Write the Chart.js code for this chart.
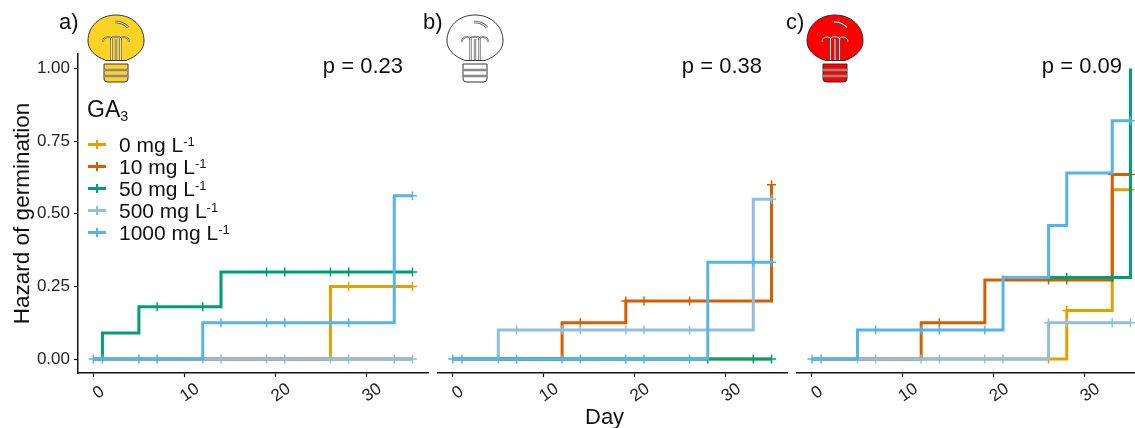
<!DOCTYPE html>
<html lang="en">
<head>
  <meta charset="UTF-8">
  <title>Hazard of germination</title>
  <script src="https://cdn.jsdelivr.net/npm/chart.js"></script>
  <style>
    html, body { margin: 0; padding: 0; background: #fff; overflow: hidden; }
    body { width: 1135px; height: 428px; position: relative; font-family: 'Liberation Sans', Arial, sans-serif; color: #111; }
    .panel { position: absolute; top: 0; height: 428px; }
    .txt { position: absolute; white-space: nowrap; line-height: 1; }
    .pval { font-size: 22px; top: 55px; }
    .tag { font-size: 22px; top: 11px; }
    .bulb { position: absolute; top: 13px; width: 60px; height: 70px; }
    sup { font-size: 0.62em; line-height: 0; vertical-align: 0.5em; }
    sub { font-size: 0.62em; line-height: 0; vertical-align: -0.3em; }
    .swatch { position: absolute; left: 88px; width: 18px; height: 3px; }
    .swatch i { position: absolute; left: 8px; top: -3px; width: 1.5px; height: 9px; background: inherit; }
  </style>
</head>
<body>
  <div class="panel" style="left:0;width:430px"><canvas id="chartA"></canvas></div>
  <div class="panel" style="left:430px;width:360px"><canvas id="chartB"></canvas></div>
  <div class="panel" style="left:790px;width:345px"><canvas id="chartC"></canvas></div>

  <div class="txt tag" style="left:59px">a)</div>
  <div class="txt tag" style="left:423px">b)</div>
  <div class="txt tag" style="left:786px">c)</div>
  <div class="txt pval" style="right:732px">p = 0.23</div>
  <div class="txt pval" style="right:373px">p = 0.38</div>
  <div class="txt pval" style="right:13px">p = 0.09</div>
  <div class="txt" style="left:87px;top:98px;font-size:23px">GA<sub>3</sub></div>
  <div class="txt" style="left:585px;top:406px;font-size:22px">Day</div>
  <div id="legend"></div>

  <svg class="bulb" style="left:86px" viewBox="0 0 60 70"><use href="#bulbShape" fill="#FFD324"/></svg>
  <svg class="bulb" style="left:445px" viewBox="0 0 60 70"><use href="#bulbShape" fill="#ffffff"/></svg>
  <svg class="bulb" style="left:805px" viewBox="0 0 60 70"><use href="#bulbShape" fill="#ff0000"/></svg>
  <svg width="0" height="0" style="position:absolute">
    <defs>
      <g id="bulbShape" stroke="#222" stroke-width="0.9">
        <!-- glass and screw base -->
        <path d="M20 47.5 C8 43 2 36 2 28 C2 13 14 2 30 2 C46 2 58 13 58 28 C58 36 52 43 40 47.5 Z"/>
        <path d="M18 51 H42 V66 Q42 69 38 69 H22 Q18 69 18 66 Z"/>
        <path d="M18 57 H42 M18 63 H42" stroke="#8a8a8a" stroke-width="2.4" fill="none"/>
        <!-- filament -->
        <path d="M25.5 47 V26 M30 47 V26 M34.5 47 V26" stroke="#555" stroke-width="2.2" fill="none"/>
        <path d="M25.5 47 V26 M30 47 V26 M34.5 47 V26" stroke="#eee" stroke-width="0.9" fill="none"/>
        <path d="M17 29 C17 23 25 23 25.5 26 C26 23 34 23 34.5 26 C35 23 43 23 43 29" stroke="#555" stroke-width="1.8" fill="none"/>
        <path d="M17 29 C17 23 25 23 25.5 26 C26 23 34 23 34.5 26 C35 23 43 23 43 29" stroke="#eee" stroke-width="0.7" fill="none"/>
        <path d="M29 9 C34 9 39 11 42 14.5" stroke="#444" stroke-width="2.4" fill="none"/>
        <path d="M29 9 C34 9 39 11 42 14.5" stroke="#fff" stroke-width="1.1" fill="none"/>
      </g>
    </defs>
  </svg>

  <script>
    // GA3 dose groups, drawing order goes low dose to high dose
    const doseLabels = ['0', '10', '50', '500', '1000'];
    const doseColors = ['#E69F00', '#D55E00', '#009E73', '#92BFDB', '#56B4E9'];

    const xTicks = [0, 10, 20, 30];
    const yTicks = [0, 0.25, 0.5, 0.75, 1];
    const yTickLabels = ['0.00', '0.25', '0.50', '0.75', '1.00'];

    // panel a) days where the curve steps, hazard from that day on, censor marks
    const a0Days = [0, 26, 35],   a0Haz = [0, 0.25, 0.25],   a0Marks = [28, 33, 35];
    const a10Days = [0, 35],      a10Haz = [0, 0],           a10Marks = [];
    const a50Days = [0, 1, 5, 14, 35], a50Haz = [0, 0.09, 0.18, 0.3, 0.3], a50Marks = [7, 12, 19, 21, 26, 28, 33, 35];
    const a500Days = [0, 35],     a500Haz = [0, 0],          a500Marks = [12, 14, 19, 21, 26, 28, 33, 35];
    const a1000Days = [0, 12, 33, 35], a1000Haz = [0, 0.125, 0.5625, 0.5625], a1000Marks = [0, 1, 5, 7, 14, 19, 21, 26, 28, 35];

    // panel b)
    const b0Days = [0, 35],       b0Haz = [0, 0],            b0Marks = [];
    const b10Days = [0, 12, 19, 35], b10Haz = [0, 0.125, 0.2, 0.6], b10Marks = [14, 19, 21, 26, 28, 33, 35];
    const b50Days = [0, 35],      b50Haz = [0, 0],           b50Marks = [28, 33, 35];
    const b500Days = [0, 5, 33, 35], b500Haz = [0, 0.1, 0.55, 0.55], b500Marks = [7, 12, 14, 19, 21, 26, 28, 35];
    const b1000Days = [0, 28, 35], b1000Haz = [0, 0.333, 0.333], b1000Marks = [0, 1, 5, 7, 12, 14, 19, 21, 26, 33, 35];

    // panel c) the 50 mg curve only shows from day 26 on
    const c0Days = [0, 28, 33, 35], c0Haz = [0, 0.167, 0.583, 0.583], c0Marks = [26, 28, 35];
    const c10Days = [0, 12, 19, 33, 35], c10Haz = [0, 0.125, 0.272, 0.635, 0.635], c10Marks = [14, 21, 26, 28, 33, 35];
    const c50Days = [26, 35],     c50Haz = [0.281, 1],       c50Marks = [26, 28, 33];
    const c500Days = [0, 26, 35], c500Haz = [0, 0.125, 0.125], c500Marks = [5, 7, 12, 14, 19, 21, 26, 28, 33, 35];
    const c1000Days = [0, 5, 21, 26, 28, 33, 35], c1000Haz = [0, 0.1, 0.281, 0.46, 0.64, 0.82, 0.82], c1000Marks = [0, 1, 7, 12, 14, 19, 35];

    // hazard of a step curve on a given day
    function hazardOn(day, days, haz) {
      let val = haz[0];
      days.forEach((d, i) => { if (d <= day) val = haz[i]; });
      return val;
    }

    function buildDatasets(groups) {
      const out = [];
      groups.forEach(([days, haz, marks], i) => {
        out.push({
          data: days.map((d, k) => ({ x: d, y: haz[k] })),
          borderColor: doseColors[i],
          borderWidth: 3,
          stepped: true,
          pointRadius: 0,
          order: 4 - i // first dataset is painted last, so flip it
        });
        out.push({
          data: marks.map(d => ({ x: d, y: hazardOn(d, days, haz) })),
          showLine: false,
          pointStyle: 'cross',
          pointRadius: 4.5,
          pointBorderWidth: 1.5,
          pointBorderColor: doseColors[i],
          order: 4 - i
        });
      });
      return out;
    }

    function makePanel(id, w, groups, opts) {
      const holder = document.getElementById(id);
      holder.width = w;
      holder.height = 428;
      holder.style.width = w + 'px';
      holder.style.height = '428px';
      return new Chart(holder.getContext('2d'), {
        type: 'line',
        data: { datasets: buildDatasets(groups) },
        options: {
          responsive: false,
          animation: false,
          events: [],
          layout: { autoPadding: false, padding: { left: opts.padLeft, right: opts.padRight, top: 54, bottom: 0 } },
          plugins: { legend: { display: false }, tooltip: { enabled: false } },
          scales: {
            x: {
              type: 'linear',
              min: -1.68,
              max: opts.xMax,
              afterBuildTicks: s => { s.ticks = xTicks.map(v => ({ value: v })); },
              // rotated labels must not shrink the plot area
              afterFit: s => { s.height = 55; s.paddingLeft = 0; s.paddingRight = 0; },
              border: { color: '#111', width: 1.5 },
              grid: { drawOnChartArea: false, tickLength: 4, tickColor: '#111', tickWidth: 1.2 },
              ticks: {
                color: '#222', font: { size: 17 }, minRotation: 35, maxRotation: 35,
                padding: 2, labelOffset: 13,
                // trailing space pulls the lone 0 back under its tick
                callback: v => (v === 0 ? '0 ' : String(v))
              }
            },
            y: {
              display: opts.showY,
              min: -0.048,
              max: 1.05,
              afterBuildTicks: s => { s.ticks = yTicks.map(v => ({ value: v })); },
              afterFit: s => { if (opts.showY) s.width = 78; s.paddingTop = 0; s.paddingBottom = 0; },
              border: { color: '#111', width: 1.5 },
              grid: { drawOnChartArea: false, tickLength: 4, tickColor: '#111', tickWidth: 1.2 },
              ticks: {
                color: '#222', font: { size: 17 }, padding: 4,
                callback: v => yTickLabels[yTicks.indexOf(v)]
              },
              title: {
                display: true, text: 'Hazard of germination', color: '#111',
                font: { size: 22.5 }, padding: { top: 9, bottom: 0 }
              }
            }
          }
        }
      });
    }

    Chart.defaults.font.family = "'Liberation Sans', Arial, sans-serif";

    makePanel('chartA', 430, [
      [a0Days, a0Haz, a0Marks], [a10Days, a10Haz, a10Marks], [a50Days, a50Haz, a50Marks],
      [a500Days, a500Haz, a500Marks], [a1000Days, a1000Haz, a1000Marks]
    ], { padLeft: 0, padRight: 2, xMax: 36.7, showY: true });

    makePanel('chartB', 360, [
      [b0Days, b0Haz, b0Marks], [b10Days, b10Haz, b10Marks], [b50Days, b50Haz, b50Marks],
      [b500Days, b500Haz, b500Marks], [b1000Days, b1000Haz, b1000Marks]
    ], { padLeft: 7.5, padRight: 3, xMax: 36.7, showY: false });

    makePanel('chartC', 345, [
      [c0Days, c0Haz, c0Marks], [c10Days, c10Haz, c10Marks], [c50Days, c50Haz, c50Marks],
      [c500Days, c500Haz, c500Marks], [c1000Days, c1000Haz, c1000Marks]
    ], { padLeft: 6.7, padRight: 0, xMax: 35.5, showY: false });

    // legend needs superscripts, so it is plain html
    const legend = document.getElementById('legend');
    doseLabels.forEach((d, i) => {
      const y = 144 + i * 22;
      legend.insertAdjacentHTML('beforeend',
        `<div class="swatch" style="top:${y - 1.5}px;background:${doseColors[i]}"><i></i></div>` +
        `<div class="txt" style="left:119px;top:${y - 10}px;font-size:21px">${d} mg L<sup>-1</sup></div>`);
    });
  </script>
</body>
</html>
